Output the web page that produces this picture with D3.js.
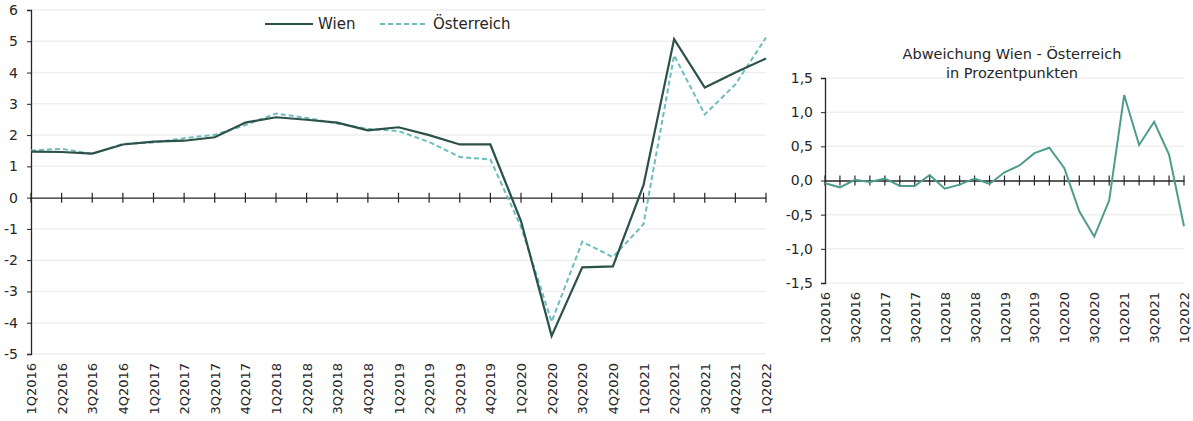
<!DOCTYPE html>
<html>
<head>
<meta charset="utf-8">
<script src="https://cdn.jsdelivr.net/npm/d3@7/dist/d3.min.js"></script>
<style>
  html, body { margin: 0; padding: 0; background: #fff; }
  svg { display: block; }
  text { font-family: "DejaVu Sans", sans-serif; fill: #262626; }
</style>
</head>
<body>
<svg id="chart" width="1193" height="421"></svg>
<script>
// Quarterly categories
const quarters = [
  "1Q2016","2Q2016","3Q2016","4Q2016",
  "1Q2017","2Q2017","3Q2017","4Q2017",
  "1Q2018","2Q2018","3Q2018","4Q2018",
  "1Q2019","2Q2019","3Q2019","4Q2019",
  "1Q2020","2Q2020","3Q2020","4Q2020",
  "1Q2021","2Q2021","3Q2021","4Q2021",
  "1Q2022"
];

// Growth rates in percent
const wien = [
  1.47, 1.46, 1.41, 1.70,
  1.79, 1.82, 1.93, 2.40,
  2.57, 2.49, 2.40, 2.15,
  2.25, 2.00, 1.70, 1.70,
  -0.75, -4.42, -2.23, -2.20,
  0.40, 5.07, 3.52, 4.00,
  4.45
];
const oesterreich = [
  1.51, 1.56, 1.40, 1.72,
  1.76, 1.90, 2.01, 2.32,
  2.69, 2.55, 2.37, 2.20,
  2.13, 1.78, 1.30, 1.22,
  -0.93, -3.97, -1.41, -1.90,
  -0.85, 4.55, 2.66, 3.62,
  5.12
];

// Difference Wien - Österreich in percentage points
const abweichung = [
  -0.04, -0.10, 0.01, -0.02,
  0.03, -0.08, -0.08, 0.08,
  -0.12, -0.06, 0.03, -0.05,
  0.12, 0.22, 0.40, 0.48,
  0.18, -0.45, -0.82, -0.29,
  1.25, 0.52, 0.86, 0.38,
  -0.67
];

const leftTicks = [6, 5, 4, 3, 2, 1, 0, -1, -2, -3, -4, -5];
const rightTicks = [1.5, 1.0, 0.5, 0.0, -0.5, -1.0, -1.5];
const rightLabelQuarters = quarters.filter((d, i) => i % 2 === 0);

const seriesNames = ["Wien", "Österreich"];

const colWien = "#2b5148";
const colAt = "#6cbcc0";
const colDiff = "#4e9c8c";
const colGrid = "#efefef";
const colAxis = "#262626";

const svg = d3.select("#chart");

// ---------- Left chart ----------
const L = { x0: 31, x1: 766, y0: 10, y1: 354 };
const xL = d3.scalePoint().domain(quarters).range([L.x0, L.x1]).padding(0);
const yL = d3.scaleLinear().domain([-5, 6]).range([L.y1, L.y0]);

const gL = svg.append("g");

// horizontal gridlines
gL.append("g").selectAll("line")
  .data(leftTicks.filter(d => d !== 0))
  .join("line")
  .attr("x1", L.x0).attr("x2", L.x1)
  .attr("y1", d => yL(d)).attr("y2", d => yL(d))
  .attr("stroke", colGrid).attr("stroke-width", 1.5);

// y axis (plain hyphen as minus sign)
const yAxisL = d3.axisLeft(yL).tickValues(leftTicks).tickSize(4).tickPadding(9)
  .tickFormat(d => String(d));
gL.append("g")
  .attr("transform", `translate(${L.x0},0)`)
  .call(yAxisL)
  .call(g => {
    g.select(".domain").attr("stroke", colAxis).attr("stroke-width", 1.3);
    g.selectAll(".tick line").attr("stroke", colAxis);
    g.selectAll(".tick text").style("font-size", "14px").attr("fill", "#262626");
  });

// zero line with category ticks crossing it
const zeroL = gL.append("g").attr("transform", `translate(0,${yL(0)})`);
zeroL.call(d3.axisBottom(xL).tickSize(0).tickFormat(""))
  .call(g => g.select(".domain").attr("stroke", colAxis).attr("stroke-width", 1.3));
zeroL.selectAll("line.qt")
  .data(quarters)
  .join("line")
  .attr("class", "qt")
  .attr("x1", d => xL(d)).attr("x2", d => xL(d))
  .attr("y1", -5).attr("y2", 5)
  .attr("stroke", colAxis).attr("stroke-width", 1.2);

// category labels at the bottom
gL.append("g").selectAll("text")
  .data(quarters)
  .join("text")
  .attr("transform", d => `translate(${xL(d) + 5},${L.y1 + 9}) rotate(-90)`)
  .attr("text-anchor", "end")
  .style("font-size", "13px")
  .text(d => d);

// lines
const lineL = d3.line().x((d, i) => xL(quarters[i])).y(d => yL(d));
gL.append("path").datum(oesterreich)
  .attr("fill", "none").attr("stroke", colAt).attr("stroke-width", 2)
  .attr("stroke-dasharray", "5,3").attr("d", lineL);
gL.append("path").datum(wien)
  .attr("fill", "none").attr("stroke", colWien).attr("stroke-width", 2.2)
  .attr("stroke-linejoin", "miter").attr("d", lineL);

// legend
const legend = gL.append("g").attr("transform", "translate(265,24)");
const legendItems = [
  { name: seriesNames[0], color: colWien, dash: null, x: 0 },
  { name: seriesNames[1], color: colAt, dash: "5,3", x: 115 }
];
legendItems.forEach(it => {
  legend.append("line")
    .attr("x1", it.x).attr("x2", it.x + 48).attr("y1", 0).attr("y2", 0)
    .attr("stroke", it.color).attr("stroke-width", 2)
    .attr("stroke-dasharray", it.dash);
  legend.append("text")
    .attr("x", it.x + 53).attr("y", 5)
    .style("font-size", "15px")
    .text(it.name);
});

// ---------- Right chart ----------
const R = { x0: 825, x1: 1184, y0: 78, y1: 283 };
const xR = d3.scalePoint().domain(quarters).range([R.x0, R.x1]).padding(0);
const yR = d3.scaleLinear().domain([-1.5, 1.5]).range([R.y1, R.y0]);

const gR = svg.append("g");

gR.append("g").selectAll("line")
  .data(rightTicks.filter(d => d !== 0))
  .join("line")
  .attr("x1", R.x0).attr("x2", R.x1)
  .attr("y1", d => yR(d)).attr("y2", d => yR(d))
  .attr("stroke", colGrid).attr("stroke-width", 1.5);

const fmtComma = d => d.toFixed(1).replace(".", ",");
gR.append("g")
  .attr("transform", `translate(${R.x0},0)`)
  .call(d3.axisLeft(yR).tickValues(rightTicks).tickSize(4).tickPadding(8).tickFormat(fmtComma))
  .call(g => {
    g.select(".domain").attr("stroke", colAxis).attr("stroke-width", 1.3);
    g.selectAll(".tick line").attr("stroke", colAxis);
    g.selectAll(".tick text").style("font-size", "14px").attr("fill", "#262626");
  });

const zeroR = gR.append("g").attr("transform", `translate(0,${yR(0)})`);
zeroR.call(d3.axisBottom(xR).tickSize(0).tickFormat(""))
  .call(g => g.select(".domain").attr("stroke", colAxis).attr("stroke-width", 1.3));
zeroR.selectAll("line.qt")
  .data(quarters)
  .join("line")
  .attr("class", "qt")
  .attr("x1", d => xR(d)).attr("x2", d => xR(d))
  .attr("y1", -5).attr("y2", 5)
  .attr("stroke", colAxis).attr("stroke-width", 1.2);

gR.append("g").selectAll("text")
  .data(rightLabelQuarters)
  .join("text")
  .attr("transform", d => `translate(${xR(d) + 5},${R.y1 + 9}) rotate(-90)`)
  .attr("text-anchor", "end")
  .style("font-size", "13px")
  .text(d => d);

const lineR = d3.line().x((d, i) => xR(quarters[i])).y(d => yR(d));
gR.append("path").datum(abweichung)
  .attr("fill", "none").attr("stroke", colDiff).attr("stroke-width", 2)
  .attr("d", lineR);

// title
const title = gR.append("text")
  .attr("x", 1012).attr("y", 59)
  .attr("text-anchor", "middle")
  .style("font-size", "14.5px");
title.append("tspan").attr("x", 1012).text("Abweichung Wien - Österreich");
title.append("tspan").attr("x", 1012).attr("dy", 19).text("in Prozentpunkten");
</script>
</body>
</html>
